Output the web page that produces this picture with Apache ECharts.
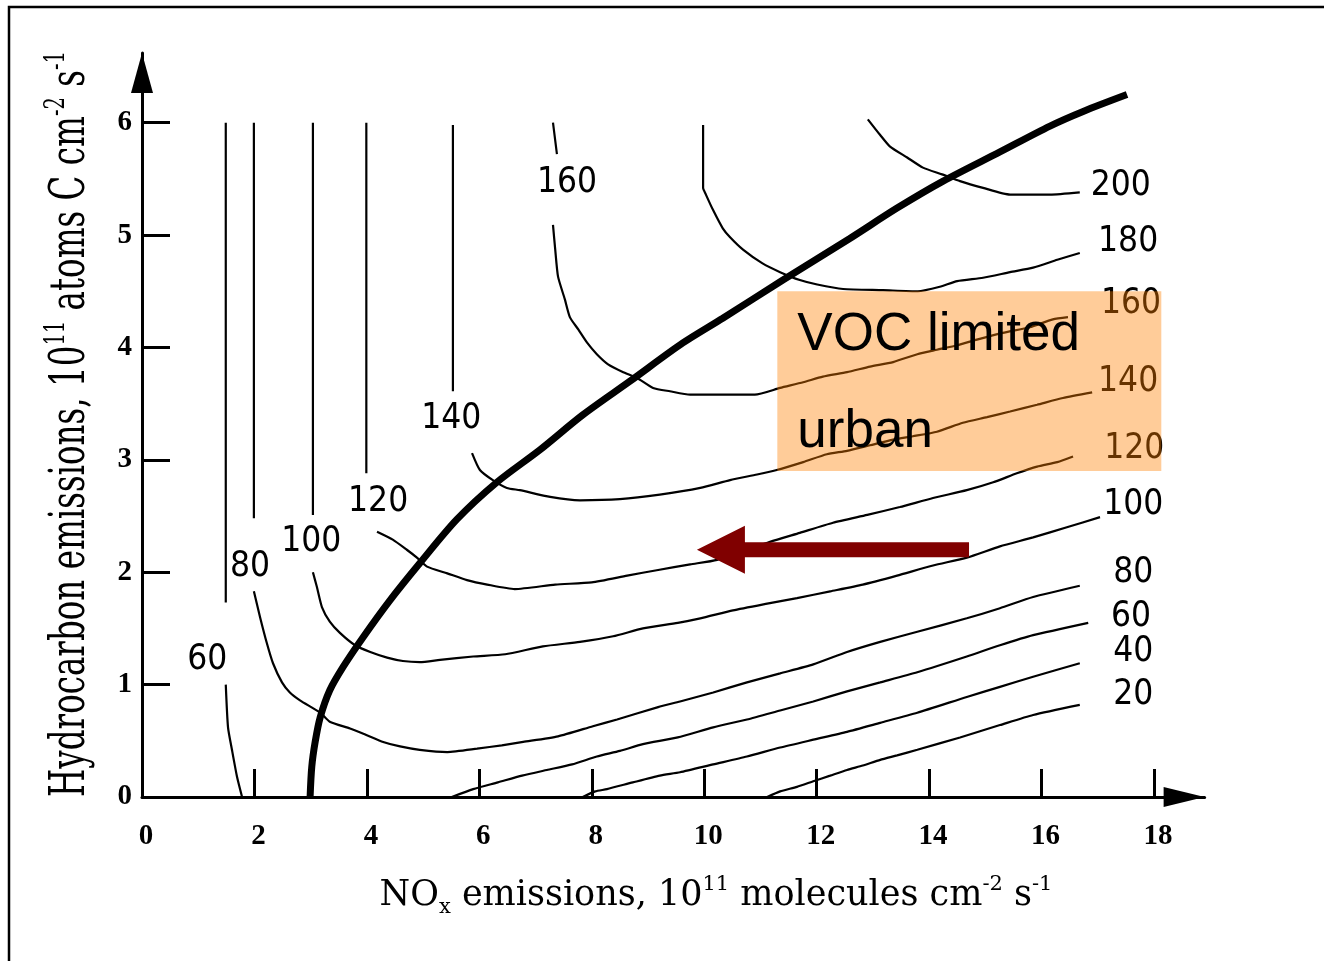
<!DOCTYPE html>
<html>
<head>
<meta charset="utf-8">
<script src="https://cdn.jsdelivr.net/npm/echarts@6/dist/echarts.min.js"></script>
<style>
  html, body { margin: 0; padding: 0; background: #fff; }
  #chart { width: 1324px; height: 961px; }
</style>
</head>
<body>
<div id="chart"></div>
<script>
// Ozone isopleths (ppb) over NOx / hydrocarbon emission rates, with the ridge line.
const xTickValues = [0, 2, 4, 6, 8, 10, 12, 14, 16, 18];
const yTickValues = [0, 1, 2, 3, 4, 5, 6];

const iso60Upper = [[1.49, 6.0], [1.49, 1.73]];
const iso60Lower = [[1.49, 1.0], [1.53, 0.62], [1.60, 0.42], [1.69, 0.18], [1.78, 0]];
const iso60Right = [[5.51, 0], [5.89, 0.07], [6.33, 0.13], [6.76, 0.19], [7.20, 0.24], [7.65, 0.29], [8.09, 0.36],
  [8.50, 0.41], [8.91, 0.47], [9.53, 0.53], [10.16, 0.62], [10.76, 0.69], [11.35, 0.77], [11.94, 0.85],
  [12.54, 0.94], [13.13, 1.02], [13.79, 1.11], [14.67, 1.25], [15.26, 1.35], [15.85, 1.44], [16.83, 1.55]];

const iso40 = [[7.84, 0], [8.06, 0.05], [8.27, 0.07], [8.73, 0.13], [9.21, 0.19], [9.57, 0.22], [10.16, 0.29],
  [10.76, 0.36], [11.35, 0.44], [11.94, 0.51], [12.54, 0.58], [13.13, 0.66], [13.79, 0.75], [14.67, 0.89],
  [15.26, 0.98], [15.85, 1.07], [16.68, 1.19]];

const iso20 = [[11.12, 0], [11.35, 0.05], [11.65, 0.09], [11.94, 0.14], [12.24, 0.19], [12.54, 0.24], [12.82, 0.28],
  [13.13, 0.33], [13.43, 0.37], [13.79, 0.42], [14.55, 0.53], [15.26, 0.64], [15.85, 0.73], [16.68, 0.82]];

const iso80Upper = [[1.99, 6.0], [1.99, 2.48]];
const iso80Curve = [[1.99, 1.83], [2.10, 1.60], [2.22, 1.37], [2.33, 1.19], [2.49, 1.02], [2.63, 0.93], [2.81, 0.86],
  [3.17, 0.75], [3.34, 0.67], [3.70, 0.61], [4.00, 0.55], [4.29, 0.49], [4.59, 0.45], [4.94, 0.42], [5.43, 0.40],
  [5.96, 0.43], [6.40, 0.46], [6.78, 0.49], [7.40, 0.54], [8.02, 0.63], [8.45, 0.69], [9.18, 0.80], [9.57, 0.85],
  [10.16, 0.93], [10.76, 1.02], [11.35, 1.10], [11.94, 1.18], [12.54, 1.29], [13.13, 1.38], [13.79, 1.47],
  [14.67, 1.59], [15.26, 1.68], [15.85, 1.78], [16.68, 1.88]];

const iso100Upper = [[3.04, 6.0], [3.04, 2.51]];
const iso100Curve = [[3.04, 2.00], [3.11, 1.87], [3.20, 1.69], [3.34, 1.56], [3.52, 1.46], [3.79, 1.35], [4.06, 1.29],
  [4.36, 1.24], [4.64, 1.21], [4.94, 1.20], [5.30, 1.22], [5.89, 1.25], [6.46, 1.27], [7.13, 1.34], [7.79, 1.38],
  [8.38, 1.43], [8.91, 1.50], [9.53, 1.55], [9.93, 1.59], [10.51, 1.66], [11.12, 1.72], [11.65, 1.77],
  [12.24, 1.83], [12.82, 1.89], [13.43, 1.97], [14.07, 2.06], [14.67, 2.13], [15.26, 2.23], [15.85, 2.31],
  [16.45, 2.40], [17.04, 2.49]];

const iso120Upper = [[3.99, 6.0], [3.99, 2.88]];
const iso120Curve = [[4.18, 2.36], [4.46, 2.29], [4.71, 2.20], [4.89, 2.13], [5.07, 2.05], [5.43, 1.99], [5.78, 1.93],
  [6.14, 1.89], [6.63, 1.85], [7.35, 1.89], [8.00, 1.91], [8.63, 1.97], [9.18, 2.02], [9.75, 2.07], [10.23, 2.11],
  [11.17, 2.27], [11.70, 2.35], [12.29, 2.44], [12.90, 2.51], [13.48, 2.58], [14.07, 2.66], [14.67, 2.73],
  [15.14, 2.80], [15.56, 2.88], [15.92, 2.94], [16.28, 2.98], [16.56, 3.03]];

const iso140Upper = [[5.53, 5.98], [5.53, 3.61]];
const iso140Curve = [[5.87, 3.06], [6.01, 2.91], [6.24, 2.82], [6.49, 2.75], [6.72, 2.73], [7.26, 2.67], [7.79, 2.64],
  [8.50, 2.65], [9.21, 2.69], [9.93, 2.75], [10.46, 2.82], [10.94, 2.87], [11.29, 2.91], [11.76, 2.98],
  [12.18, 3.05], [12.54, 3.08], [12.95, 3.13], [13.36, 3.18], [13.71, 3.21], [14.14, 3.25], [14.60, 3.33],
  [15.03, 3.38], [15.44, 3.43], [15.92, 3.49], [16.38, 3.55], [16.90, 3.60]];

const iso160Upper = [[7.31, 6.0], [7.38, 5.72]];
const iso160Curve = [[7.31, 5.09], [7.35, 4.87], [7.40, 4.63], [7.52, 4.43], [7.61, 4.27], [7.76, 4.16], [7.92, 4.04],
  [8.09, 3.94], [8.29, 3.85], [8.56, 3.78], [8.80, 3.73], [9.09, 3.64], [9.39, 3.61], [9.75, 3.58], [10.28, 3.58],
  [10.90, 3.58], [11.35, 3.64], [11.76, 3.69], [12.11, 3.74], [12.54, 3.78], [12.95, 3.83], [13.36, 3.87],
  [13.79, 3.94], [14.14, 3.98], [14.50, 4.02], [14.85, 4.07], [15.31, 4.13], [15.79, 4.18], [16.20, 4.25],
  [16.47, 4.27]];

const iso180 = [[9.98, 5.98], [9.98, 5.42], [10.03, 5.36], [10.16, 5.22], [10.33, 5.06], [10.46, 4.98], [10.69, 4.87],
  [11.03, 4.75], [11.35, 4.67], [11.70, 4.60], [12.01, 4.56], [12.47, 4.52], [13.18, 4.51], [13.80, 4.50],
  [14.19, 4.54], [14.50, 4.59], [14.96, 4.62], [15.44, 4.67], [15.85, 4.71], [16.28, 4.78], [16.68, 4.84]];

const iso200 = [[12.91, 6.03], [13.13, 5.89], [13.30, 5.79], [13.61, 5.69], [13.89, 5.60], [14.23, 5.54], [14.55, 5.48],
  [14.96, 5.42], [15.44, 5.36], [16.15, 5.36], [16.68, 5.38]];

// Ridge line separating NOx-limited and VOC-limited regimes
const ridgeLine = [[2.99, 0], [3.02, 0.27], [3.08, 0.49], [3.17, 0.71], [3.34, 0.95], [3.58, 1.16], [3.93, 1.42],
  [4.41, 1.75], [4.94, 2.08], [5.60, 2.47], [6.31, 2.80], [7.08, 3.09], [7.84, 3.40], [8.68, 3.70], [9.62, 4.04],
  [10.33, 4.26], [11.40, 4.60], [12.59, 4.97], [13.43, 5.24], [14.25, 5.48], [15.26, 5.74], [16.15, 5.97],
  [16.74, 6.10], [17.52, 6.25]];

// Isopleth value labels: [NOx, HC, text]
const isoLabels = [
  [1.16, 1.22, '60'], [1.92, 2.05, '80'], [3.01, 2.27, '100'], [4.20, 2.63, '120'], [5.50, 3.36, '140'],
  [7.56, 5.46, '160'],
  [17.41, 5.44, '200'], [17.54, 4.94, '180'], [17.59, 4.39, '160'], [17.54, 3.69, '140'], [17.65, 3.10, '120'],
  [17.63, 2.60, '100'], [17.63, 1.99, '80'], [17.59, 1.60, '60'], [17.63, 1.29, '40'], [17.63, 0.91, '20']
];

// Highlighted regime box [x0, yTop, x1, yBottom] and its caption
const vocBox = [[11.30, 4.50, 18.13, 2.90]];
const vocCaption = ['VOC limited', 'urban'];

// NOx-reduction arrow [tailX, y, tipX]
const noxArrow = [[14.71, 2.20, 9.87]];

const contourSegments = [
  iso60Upper, iso60Lower, iso60Right, iso40, iso20,
  iso80Upper, iso80Curve, iso100Upper, iso100Curve, iso120Upper, iso120Curve,
  iso140Upper, iso140Curve, iso160Upper, iso160Curve, iso180, iso200
];

const serifFont = '"DejaVu Serif", serif';
const tickFont = '"Liberation Serif", serif';
const labelFont = '"Liberation Sans Narrow", "DejaVu Sans Condensed", "Liberation Sans", sans-serif';

const chart = echarts.init(document.getElementById('chart'), null, { renderer: 'canvas' });

const series = contourSegments.map(seg => ({
  type: 'line',
  data: seg,
  showSymbol: false,
  smooth: 0.2,
  z: 2,
  lineStyle: { color: '#000', width: 2.2 },
  silent: true
}));

series.push({
  type: 'line',
  data: ridgeLine,
  showSymbol: false,
  smooth: 0.3,
  z: 2,
  lineStyle: { color: '#000', width: 7, cap: 'butt' },
  silent: true
});

// Isopleth values, centred on their anchor points
series.push({
  type: 'custom',
  data: isoLabels,
  z: 2,
  clip: false,
  silent: true,
  renderItem: (params, api) => {
    const p = api.coord([api.value(0), api.value(1)]);
    return {
      type: 'text', x: p[0], y: p[1],
      style: {
        text: isoLabels[params.dataIndex][2], fill: '#000', fontFamily: labelFont, fontSize: 35,
        textAlign: 'center', textVerticalAlign: 'middle', align: 'center', verticalAlign: 'middle'
      }
    };
  }
});

series.push({
  type: 'custom',
  data: vocBox,
  z: 3,
  clip: false,
  silent: true,
  renderItem: (params, api) => {
    const p0 = api.coord([api.value(0), api.value(1)]);
    const p1 = api.coord([api.value(2), api.value(3)]);
    const textStyle = (t) => ({
      text: t, fill: '#000', fontFamily: '"Liberation Sans", Arial, sans-serif', fontSize: 53,
      textAlign: 'left', textVerticalAlign: 'middle', align: 'left', verticalAlign: 'middle'
    });
    return {
      type: 'group',
      children: [
        { type: 'rect', shape: { x: p0[0], y: p0[1], width: p1[0] - p0[0], height: p1[1] - p0[1] },
          style: { fill: 'rgba(255,128,0,0.4)' } },
        { type: 'text', x: p0[0] + 20, y: p0[1] + 44, style: textStyle(vocCaption[0]) },
        { type: 'text', x: p0[0] + 20, y: p0[1] + 141, style: textStyle(vocCaption[1]) }
      ]
    };
  }
});

series.push({
  type: 'custom',
  data: noxArrow,
  z: 4,
  clip: false,
  silent: true,
  renderItem: (params, api) => {
    const tail = api.coord([api.value(0), api.value(1)]);
    const tip = api.coord([api.value(2), api.value(1)]);
    const y = tail[1], shaft = 7.5, headLen = 48, headHalf = 24;
    const base = tip[0] + headLen;
    return {
      type: 'polygon',
      shape: { points: [
        [tip[0], y], [base, y - headHalf], [base, y - shaft], [tail[0], y - shaft],
        [tail[0], y + shaft], [base, y + shaft], [base, y + headHalf]
      ] },
      style: { fill: '#800000' }
    };
  }
});

chart.setOption({
  animation: false,
  backgroundColor: '#fff',
  grid: { left: 142, top: 53, width: 1062.6, height: 744, containLabel: false },
  xAxis: {
    type: 'value',
    min: 0, max: 18.9, interval: 2,
    axisLine: { show: true, onZero: false, symbol: ['none', 'triangle'], symbolSize: [20, 41], symbolOffset: [0, -20.5],
      lineStyle: { color: '#000', width: 3 } },
    axisTick: { show: true, inside: true, length: 28, customValues: xTickValues, lineStyle: { color: '#000', width: 3 } },
    axisLabel: { show: true, customValues: xTickValues, margin: 25, color: '#000', fontFamily: tickFont, fontSize: 29,
      fontWeight: 'bold', padding: [0, 0, 0, 8], formatter: v => String(v) },
    splitLine: { show: false }
  },
  yAxis: {
    type: 'value',
    min: 0, max: 6.62, interval: 1,
    axisLine: { show: true, onZero: false, symbol: ['none', 'triangle'], symbolSize: [22, 40], symbolOffset: [0, -20],
      lineStyle: { color: '#000', width: 3 } },
    axisTick: { show: true, inside: true, length: 28, customValues: yTickValues, lineStyle: { color: '#000', width: 3 } },
    axisLabel: { show: true, customValues: yTickValues, margin: 10, color: '#000', fontFamily: tickFont, fontSize: 29,
      fontWeight: 'bold', formatter: v => String(v) },
    splitLine: { show: false }
  },
  graphic: [
    { type: 'rect', z: 0, silent: true, shape: { x: 9, y: 7, width: 1400, height: 1000 },
      style: { fill: 'none', stroke: '#000', lineWidth: 2.5 } },
    {
      type: 'text', x: 716, y: 896, silent: true,
      style: {
        text: '{m|NO}{sub|x}{m| emissions, 10}{sup|11}{m| molecules cm}{sup|-2}{m| s}{sup|-1}',
        align: 'center', verticalAlign: 'middle',
        rich: {
          m: { fontFamily: serifFont, fontSize: 35, lineHeight: 44, fill: '#000' },
          sup: { fontFamily: serifFont, fontSize: 21, lineHeight: 22, verticalAlign: 'top', fill: '#000' },
          sub: { fontFamily: serifFont, fontSize: 21, lineHeight: 14, verticalAlign: 'bottom', fill: '#000' }
        }
      }
    },
    {
      type: 'text', x: 72, y: 424, rotation: Math.PI / 2, scaleX: 0.93, scaleY: 1.37, silent: true,
      style: {
        text: '{m|Hydrocarbon emissions, 10}{sup|11}{m| atoms C cm}{sup|-2}{m| s}{sup|-1}',
        align: 'center', verticalAlign: 'middle',
        rich: {
          m: { fontFamily: serifFont, fontSize: 35, lineHeight: 44, fill: '#000' },
          sup: { fontFamily: serifFont, fontSize: 21, lineHeight: 22, verticalAlign: 'top', fill: '#000' }
        }
      }
    }
  ],
  series: series
});
</script>
</body>
</html>
